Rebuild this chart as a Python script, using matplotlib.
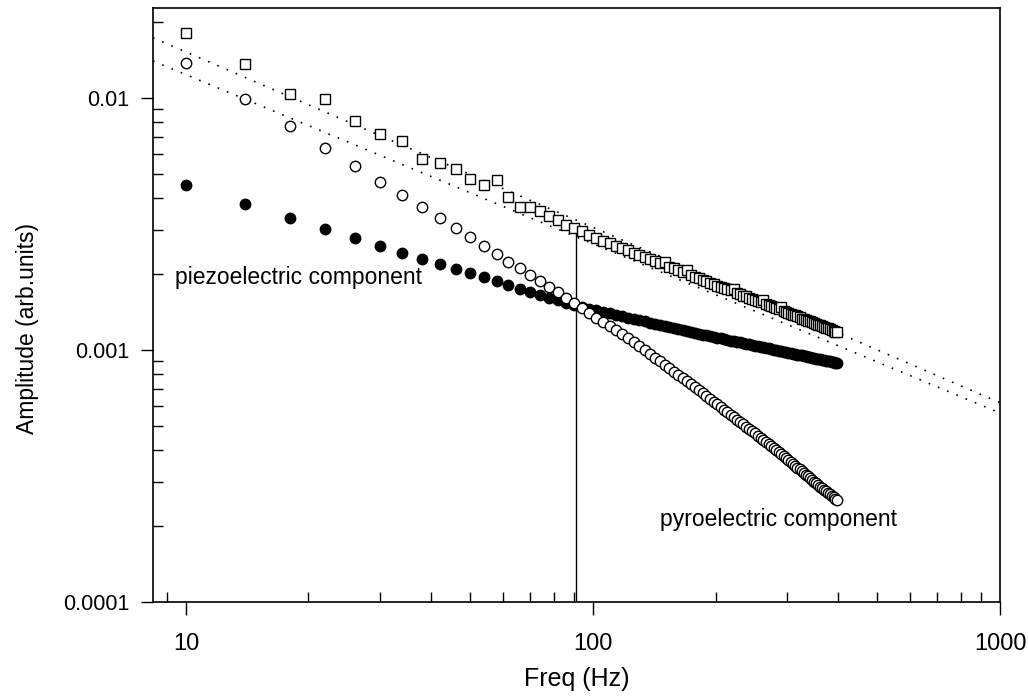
import numpy as np
import matplotlib
matplotlib.use("Agg")
import matplotlib.pyplot as plt
from matplotlib.ticker import FixedLocator, LogLocator, NullFormatter

plt.rcParams["font.family"] = ["Liberation Sans", "DejaVu Sans"]

# ---- Data ----
freq = list(range(10, 399, 4))  # 10, 14, ..., 398 Hz

# open squares: measured total amplitude
total = [
    0.01807, 0.01362, 0.01031, 0.00990, 0.00812, 0.00720, 0.00671, 0.00573, 0.00551, 0.00521,
    0.00478, 0.00450, 0.00473, 0.00404, 0.00368, 0.00368, 0.00354, 0.00340, 0.00328, 0.00312,
    0.00304, 0.00297, 0.00286, 0.00277, 0.00271, 0.00265, 0.00259, 0.00253, 0.00248, 0.00243,
    0.00238, 0.00234, 0.00229, 0.00225, 0.00221, 0.00224, 0.00214, 0.00211, 0.00207, 0.00204,
    0.00207, 0.00198, 0.00195, 0.00193, 0.00190, 0.00188, 0.00185, 0.00183, 0.00180, 0.00178,
    0.00176, 0.00174, 0.00172, 0.00175, 0.00168, 0.00166, 0.00164, 0.00163, 0.00161, 0.00159,
    0.00158, 0.00156, 0.00155, 0.00158, 0.00152, 0.00150, 0.00149, 0.00148, 0.00146, 0.00145,
    0.00148, 0.00142, 0.00141, 0.00140, 0.00139, 0.00138, 0.00137, 0.00136, 0.00135, 0.00133,
    0.00132, 0.00131, 0.00130, 0.00130, 0.00129, 0.00128, 0.00127, 0.00126, 0.00125, 0.00124,
    0.00123, 0.00122, 0.00122, 0.00121, 0.00120, 0.00119, 0.00118, 0.00118,
]

# filled circles: piezoelectric component
piezo = [
    0.00449, 0.00380, 0.00333, 0.00302, 0.00278, 0.00259, 0.00243, 0.00230, 0.00219, 0.00210,
    0.00202, 0.00194, 0.00188, 0.00181, 0.00175, 0.00170, 0.00165, 0.00161, 0.00157, 0.00153,
    0.00150, 0.001476, 0.001454, 0.001433, 0.001413, 0.001394, 0.001376, 0.001358, 0.001342, 0.001326,
    0.001311, 0.001297, 0.001283, 0.001269, 0.001257, 0.001244, 0.001232, 0.001221, 0.001210, 0.001199,
    0.001188, 0.001178, 0.001169, 0.001159, 0.001150, 0.001142, 0.001134, 0.001126, 0.001118, 0.001111,
    0.001103, 0.001096, 0.001089, 0.001083, 0.001076, 0.001070, 0.001063, 0.001057, 0.001051, 0.001045,
    0.001040, 0.001034, 0.001029, 0.001023, 0.001018, 0.001013, 0.001008, 0.001003, 0.000998, 0.000993,
    0.000988, 0.000984, 0.000979, 0.000975, 0.000970, 0.000966, 0.000962, 0.000958, 0.000954, 0.000950,
    0.000946, 0.000942, 0.000938, 0.000934, 0.000931, 0.000927, 0.000923, 0.000920, 0.000916, 0.000913,
    0.000910, 0.000906, 0.000903, 0.000900, 0.000897, 0.000893, 0.000890, 0.000887,
]

# open circles: pyroelectric component
pyro = [
    0.01374, 0.00989, 0.00770, 0.00631, 0.00537, 0.00464, 0.00411, 0.00368, 0.00333, 0.00303,
    0.00280, 0.00259, 0.00241, 0.00224, 0.00211, 0.00198, 0.00188, 0.00178, 0.00169, 0.00161,
    0.00153, 0.001462, 0.001399, 0.001342, 0.001288, 0.001239, 0.001194, 0.001151, 0.001112, 0.001075,
    0.001035, 0.000998, 0.000964, 0.000931, 0.000901, 0.000872, 0.000845, 0.000819, 0.000795, 0.000772,
    0.000750, 0.000730, 0.000710, 0.000691, 0.000674, 0.000656, 0.000639, 0.000623, 0.000608, 0.000593,
    0.000579, 0.000566, 0.000553, 0.000540, 0.000528, 0.000517, 0.000506, 0.000495, 0.000485, 0.000475,
    0.000466, 0.000457, 0.000448, 0.000439, 0.000431, 0.000423, 0.000415, 0.000408, 0.000400, 0.000393,
    0.000386, 0.000379, 0.000372, 0.000365, 0.000359, 0.000353, 0.000347, 0.000341, 0.000336, 0.000330,
    0.000325, 0.000320, 0.000315, 0.000310, 0.000305, 0.000300, 0.000296, 0.000291, 0.000287, 0.000283,
    0.000279, 0.000275, 0.000271, 0.000267, 0.000264, 0.000260, 0.000257, 0.000253,
]

# dotted power-law fits (end points at the axis edges)
fit_x = [8.3, 1000]
fit_upper = [0.0173, 0.000617]
fit_lower = [0.0140, 0.000562]

# vertical marker line
cross_freq = 91
cross_top = 0.00303

# ---- Plot ----
fig = plt.figure(figsize=(10.28, 7.00), dpi=100)
ax = fig.add_axes([0.1488, 0.14, 0.824, 0.8486])

ax.plot(fit_x, fit_upper, color="black", lw=1.2, ls=(0, (1, 5)), zorder=1)
ax.plot(fit_x, fit_lower, color="black", lw=1.2, ls=(0, (1, 5)), zorder=1)
ax.plot([cross_freq, cross_freq], [1e-4, cross_top], color="black", lw=1.0, zorder=1)

ax.plot(freq, total, ls="none", marker="s", ms=7.5, mfc="white", mec="black", mew=1.0, zorder=3)
ax.plot(freq, piezo, ls="none", marker="o", ms=7.5, mfc="black", mec="black", mew=1.0, zorder=4)
ax.plot(freq, pyro, ls="none", marker="o", ms=7.5, mfc="white", mec="black", mew=1.0, zorder=5)

ax.text(9.4, 0.00193, "piezoelectric component", fontsize=16.5, va="center", ha="left")
ax.text(146, 0.000212, "pyroelectric component", fontsize=16.5, va="center", ha="left")

ax.set_xscale("log")
ax.set_yscale("log")
ax.set_xlim(8.3, 1000)
ax.set_ylim(1e-4, 0.0227)

ax.xaxis.set_major_locator(FixedLocator([10, 100, 1000]))
ax.set_xticklabels(["10", "100", "1000"])
ax.yaxis.set_major_locator(FixedLocator([1e-4, 1e-3, 1e-2]))
ax.set_yticklabels(["0.0001", "0.001", "0.01"])
ax.xaxis.set_minor_locator(LogLocator(base=10, subs=np.arange(2, 10)))
ax.yaxis.set_minor_locator(LogLocator(base=10, subs=np.arange(2, 10)))
ax.xaxis.set_minor_formatter(NullFormatter())
ax.yaxis.set_minor_formatter(NullFormatter())

ax.tick_params(which="major", direction="out", length=9, width=1.0)
ax.tick_params(axis="x", which="major", pad=13, labelsize=17)
ax.tick_params(axis="y", which="major", pad=8, labelsize=15.5)
ax.tick_params(which="minor", direction="in", length=7, width=1.0)
ax.tick_params(top=False, right=False, which="both")

for sp in ax.spines.values():
    sp.set_linewidth(1.2)

ax.set_xlabel("Freq (Hz)", fontsize=18)
ax.xaxis.set_label_coords(0.5, -0.11)
ax.set_ylabel("Amplitude (arb.units)", fontsize=16.5)
ax.yaxis.set_label_coords(-0.135, 0.46)

fig.savefig("out.png", dpi=100)
